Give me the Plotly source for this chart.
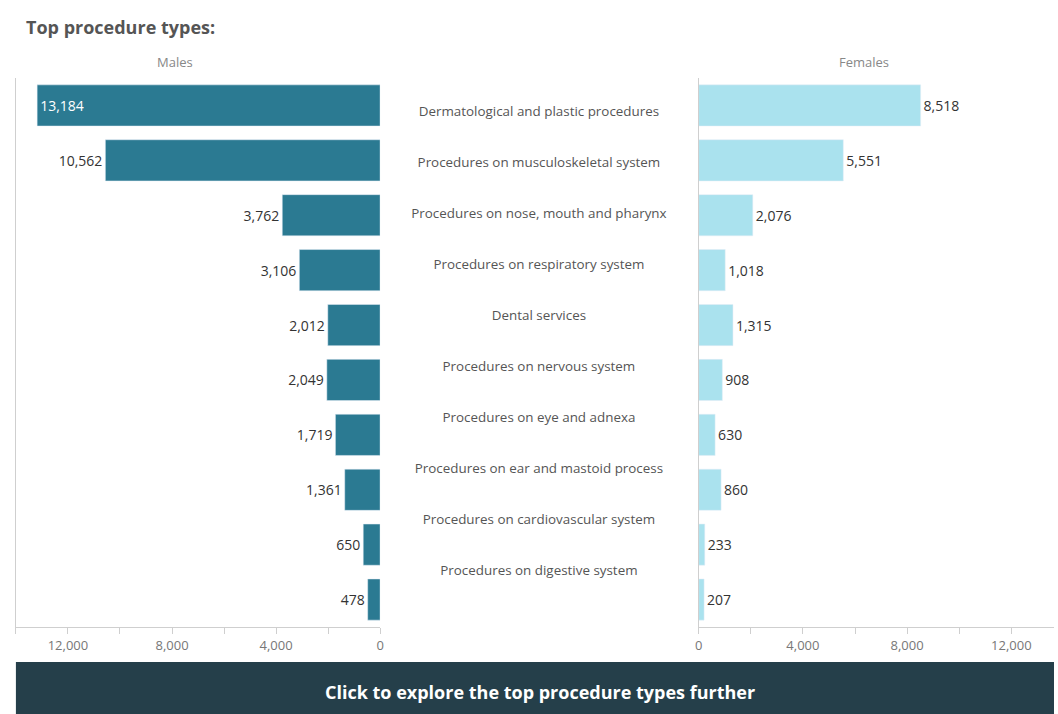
import plotly.graph_objects as go

# Top procedure types by sex
procedures = [
    "Dermatological and plastic procedures",
    "Procedures on musculoskeletal system",
    "Procedures on nose, mouth and pharynx",
    "Procedures on respiratory system",
    "Dental services",
    "Procedures on nervous system",
    "Procedures on eye and adnexa",
    "Procedures on ear and mastoid process",
    "Procedures on cardiovascular system",
    "Procedures on digestive system",
]
males = [13184, 10562, 3762, 3106, 2012, 2049, 1719, 1361, 650, 478]
females = [8518, 5551, 2076, 1018, 1315, 908, 630, 860, 233, 207]
tick_vals = [0, 2000, 4000, 6000, 8000, 10000, 12000, 14000]
tick_text = ["0", "", "4,000", "", "8,000", "", "12,000", ""]

MALE_COL = "#2b7a92"
FEMALE_COL = "#aae2ee"
AXIS_COL = "#cfcfcf"
FONT = "Open Sans"

W, H = 1058, 714
top_px, bot_px = 78, 627
y_dom = [1 - bot_px / H, 1 - top_px / H]

fig = go.Figure()

rows = list(range(len(procedures)))
fmt = lambda v: f"{v:,}"

# Males: bar grows leftwards; largest value labelled inside in white
male_pos = ["inside" if v > 12000 else "outside" for v in males]
male_txtcol = ["white" if v > 12000 else "#333333" for v in males]
fig.add_trace(go.Bar(
    x=males, y=rows, orientation="h", marker_color=MALE_COL,
    text=[fmt(v) for v in males], textposition=male_pos,
    insidetextanchor="end", textfont=dict(color=male_txtcol, size=14, family=FONT),
    cliponaxis=False, xaxis="x", yaxis="y", hoverinfo="skip",
))

# Females
fig.add_trace(go.Bar(
    x=females, y=rows, orientation="h", marker_color=FEMALE_COL,
    text=[fmt(v) for v in females], textposition="outside",
    textfont=dict(color="#333333", size=14, family=FONT),
    cliponaxis=False, xaxis="x3", yaxis="y3", hoverinfo="skip",
))

# Category names in the centre column
fig.add_trace(go.Scatter(
    x=[0] * len(procedures), y=rows, mode="text", text=procedures,
    textposition="middle center",
    textfont=dict(color="#555555", size=13.4, family=FONT),
    xaxis="x2", yaxis="y2", hoverinfo="skip", cliponaxis=False,
))

common_x = dict(
    showgrid=False, zeroline=False, showline=True, linecolor=AXIS_COL,
    ticks="outside", ticklen=6, tickcolor=AXIS_COL,
    tickvals=tick_vals, ticktext=tick_text,
    tickfont=dict(size=13, color="#777777", family=FONT),
    fixedrange=True,
)
common_y = dict(
    domain=y_dom, range=[9.5, -0.5], showticklabels=False,
    showgrid=False, zeroline=False, showline=True, linecolor=AXIS_COL,
    ticks="", fixedrange=True,
)

# label positions for the middle column: 51 px apart starting at y=113
mid_step = 51.0
mid_top = -(113 - top_px) / mid_step
mid_bot = 9 + (bot_px - 572) / mid_step

fig.update_layout(
    width=W, height=H,
    margin=dict(l=0, r=0, t=0, b=0),
    paper_bgcolor="white", plot_bgcolor="white",
    showlegend=False, bargap=0.25,
    font=dict(family=FONT),
    xaxis=dict(domain=[12 / W, 379 / W], range=[14000, 0], anchor="y", **common_x),
    yaxis=dict(anchor="x", **common_y),
    xaxis2=dict(domain=[380 / W, 698 / W], range=[-1, 1], visible=False, anchor="y2"),
    yaxis2=dict(domain=y_dom, range=[mid_bot, mid_top], visible=False, anchor="x2"),
    xaxis3=dict(domain=[700 / W, 1.0], range=[0, (W - 700) / 52.5 * 2000],
                anchor="y3", **common_x),
    yaxis3=dict(anchor="x3", **common_y),
)

# Header texts
fig.add_annotation(text="<b>Top procedure types:</b>", x=20 / W, y=1 - 27 / H,
                   xref="paper", yref="paper", xanchor="left", yanchor="middle",
                   showarrow=False, font=dict(size=18, color="#555555", family=FONT))
fig.add_annotation(text="Males", x=172 / W, y=1 - 62 / H, xref="paper", yref="paper",
                   xanchor="center", yanchor="middle",
                   showarrow=False, font=dict(size=13, color="#888888", family=FONT))
fig.add_annotation(text="Females", x=867 / W, y=1 - 62 / H, xref="paper", yref="paper",
                   xanchor="center", yanchor="middle",
                   showarrow=False, font=dict(size=13, color="#888888", family=FONT))

# Call-to-action banner
fig.add_shape(type="rect", xref="paper", yref="paper",
              x0=12 / W, x1=1.0, y0=0, y1=1 - 662 / H,
              fillcolor="#253f4a", line_width=0, layer="above")
fig.add_annotation(text="<b>Click to explore the top procedure types further</b>",
                   x=540 / W, y=1 - 692 / H, xref="paper", yref="paper",
                   xanchor="center", yanchor="middle",
                   showarrow=False, font=dict(size=18, color="white", family=FONT))

fig.write_html("out.html")
